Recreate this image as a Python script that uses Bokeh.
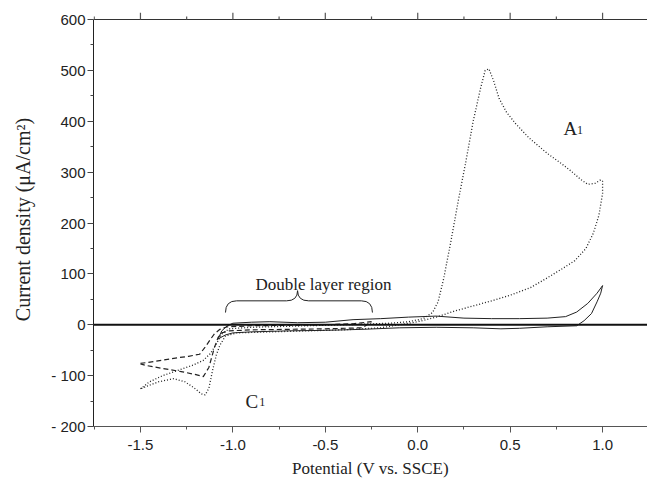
from bokeh.plotting import figure
from bokeh.models import FixedTicker, Span, Label
from bokeh.embed import file_html
from bokeh.resources import INLINE

# ---- data ----
# dotted: wide scan -1.5 .. 1.0 V
dot_x = [-1.5, -1.45, -1.38, -1.3, -1.22, -1.16, -1.12, -1.09, -1.06, -1.02, -0.9, -0.7, -0.5, -0.3, -0.15,
         -0.05, 0.03, 0.08, 0.11, 0.14, 0.18, 0.22, 0.26, 0.30, 0.34, 0.365, 0.385, 0.41, 0.44, 0.48, 0.53, 0.60,
         0.70, 0.78, 0.83, 0.88, 0.92, 0.96, 0.99, 1.0, 1.0, 0.98, 0.95, 0.91, 0.85, 0.79, 0.70, 0.61,
         0.50, 0.40, 0.30, 0.20, 0.10, 0.0, -0.2, -0.4, -0.6, -0.8, -0.98, -1.04, -1.07, -1.09, -1.11,
         -1.13, -1.15, -1.17, -1.21, -1.26, -1.32, -1.40, -1.46, -1.5]
dot_y = [-126, -112, -100, -90, -80, -70, -56, -38, -18, -8, -5, -3, -1, 1, 3,
         6, 12, 24, 45, 90, 165, 245, 320, 400, 465, 500, 503, 480, 445, 418, 395, 368,
         337, 316, 302, 286, 276, 278, 285, 282, 258, 215, 180, 150, 126, 112, 92, 73,
         58, 47, 37, 27, 15, 6, -6, -10, -12, -14, -16, -22, -40, -60, -90,
         -125, -138, -136, -124, -112, -106, -112, -120, -126]

# dashed: narrow scan -1.5 .. -0.25 V
dash_x = [-1.5, -1.42, -1.32, -1.24, -1.18, -1.15, -1.12, -1.10, -1.07, -1.03, -0.9, -0.7, -0.5, -0.35,
          -0.25, -0.3, -0.5, -0.7, -0.9, -1.02, -1.06, -1.08, -1.10, -1.13, -1.16, -1.20, -1.28, -1.38, -1.47, -1.5]
dash_y = [-76, -72, -66, -62, -58, -44, -28, -18, -9, -4, -2, -1, 0, 2,
          6, -6, -8, -9, -10, -12, -16, -25, -45, -84, -102, -98, -92, -86, -80, -77]

# solid: scan -1.1 .. 1.0 V
sol_x = [-1.08, -1.06, -1.03, -1.0, -0.9, -0.8, -0.65, -0.5, -0.35, -0.2, -0.05, 0.1, 0.25, 0.4, 0.55,
         0.7, 0.8, 0.86, 0.92, 0.97, 1.0, 0.99, 0.97, 0.94, 0.90, 0.86, 0.7, 0.55, 0.45, 0.3, 0.1, -0.1,
         -0.3, -0.5, -0.7, -0.9, -1.0, -1.04, -1.08]
sol_y = [-28, -12, -2, 3, 5, 6, 4, 5, 10, 12, 15, 17, 13, 12, 12,
         13, 16, 25, 42, 62, 77, 62, 45, 22, 8, -2, -4, -7, -8, -6, -5, -6,
         -9, -11, -12, -14, -16, -20, -28]

x_ticks = [-1.5, -1.0, -0.5, 0.0, 0.5, 1.0]
x_minor = [-1.75, -1.25, -0.75, -0.25, 0.25, 0.75]
y_ticks = [-200, -100, 0, 100, 200, 300, 400, 500, 600]
y_minor = [-150, -50, 50, 150, 250, 350, 450, 550]

x_lo, x_hi = -1.754, 1.243
y_lo, y_hi = -200, 600

brace_left, brace_tip, brace_right = -1.04, -0.65, -0.245
brace_end_y, brace_bar_y, brace_tip_y = 24, 47, 67

serif = "Liberation Serif"
sans = "Liberation Sans"
ink = "#222222"

# frame: 407 px for y_lo..y_hi plus 7 px of top-tick room
px_per_unit = 407.0 / (y_hi - y_lo)
top_major = 7 / px_per_unit
top_minor = 3 / px_per_unit

p = figure(width=647, height=489, x_range=(x_lo, x_hi), y_range=(y_lo, y_hi + top_major),
           output_backend="svg", toolbar_location=None,
           min_border_left=93, min_border_right=0, min_border_top=12, min_border_bottom=63,
           x_axis_label="Potential (V vs. SSCE)", y_axis_label="Current density (μA/cm²)")
p.grid.visible = False
p.outline_line_color = None
p.background_fill_color = "white"
p.border_fill_color = "white"

xa = p.xaxis[0]
xa.ticker = FixedTicker(ticks=x_ticks, minor_ticks=x_minor)
ya = p.yaxis[0]
ya.ticker = FixedTicker(ticks=y_ticks, minor_ticks=y_minor)
ya.bounds = (y_lo, y_hi)

for ax in (xa, ya):
    ax.major_tick_out = 6
    ax.major_tick_in = 0
    ax.minor_tick_out = 3
    ax.minor_tick_in = 0
    ax.major_label_text_font = sans
    ax.major_label_text_font_size = "15px"
    ax.major_label_text_color = "#222222"
    ax.axis_label_text_font = serif
    ax.axis_label_text_font_size = "17px"
    ax.axis_label_text_font_style = "normal"
    ax.axis_label_text_color = "#222222"
xa.axis_line_color = "#555555"
xa.major_tick_line_color = "#555555"
xa.minor_tick_line_color = "#555555"
xa.major_label_standoff = 7
xa.axis_label_standoff = 6
xa.major_label_overrides = {t: f"{t:.1f}" for t in x_ticks}
ya.axis_line_color = "#222222"
ya.major_tick_line_color = "#444444"
ya.minor_tick_line_color = "#444444"
ya.major_label_standoff = 2
ya.axis_label_standoff = 14
ya.axis_label_text_font_size = "20px"
ya.major_label_overrides = {t: (f"- {abs(t)}" if t < 0 else str(t)) for t in y_ticks}

# top frame line with outward ticks (no labels)
p.segment(x0=[x_lo], y0=[y_hi], x1=[x_hi], y1=[y_hi], line_color="#333333", line_width=1.2)
p.segment(x0=x_ticks, y0=[y_hi] * len(x_ticks), x1=x_ticks, y1=[y_hi + top_major] * len(x_ticks),
          line_color="#555555", line_width=1.2)
p.segment(x0=x_minor, y0=[y_hi] * len(x_minor), x1=x_minor, y1=[y_hi + top_minor] * len(x_minor),
          line_color="#555555", line_width=1.2)

p.add_layout(Span(location=0, dimension="width", line_color="#111111", line_width=2))

p.line(dot_x, dot_y, line_color=ink, line_width=1.3, line_dash="1 2")
p.line(dash_x, dash_y, line_color=ink, line_width=1.2, line_dash="5 3")
p.line(sol_x, sol_y, line_color=ink, line_width=1.0)

# brace
d = 0.06
L, T, R = brace_left, brace_tip, brace_right
p.quadratic(x0=[L, T - d, T, R - d], y0=[brace_end_y, brace_bar_y, brace_tip_y, brace_bar_y],
            x1=[L + d, T, T + d, R], y1=[brace_bar_y, brace_tip_y, brace_bar_y, brace_end_y],
            cx=[L, T, T, R], cy=[brace_bar_y, brace_bar_y, brace_bar_y, brace_bar_y],
            line_color=ink, line_width=1.0)
p.segment(x0=[L + d, T + d], y0=[brace_bar_y, brace_bar_y], x1=[T - d, R - d], y1=[brace_bar_y, brace_bar_y],
          line_color=ink, line_width=1.0)

def lab(x, y, t, size):
    p.add_layout(Label(x=x, y=y, text=t, text_font=serif, text_font_size=size,
                       text_color="#222222", text_align="left", text_baseline="alphabetic"))

lab(-0.878, 80, "Double layer region", "17px")
lab(0.789, 385, "A", "19px")
lab(0.862, 383, "1", "12px")
lab(-0.932, -150, "C", "19px")
lab(-0.858, -152, "1", "12px")

open("out.html", "w").write(file_html(p, INLINE))
